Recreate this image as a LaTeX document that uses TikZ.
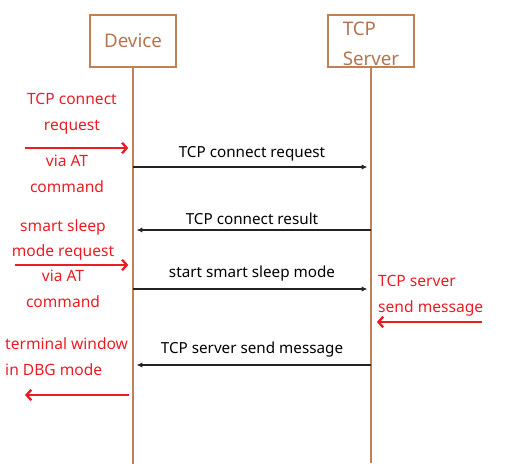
\documentclass[tikz,border=0pt]{standalone}
\usepackage{fontspec}
\setmainfont{Noto Sans}
\usetikzlibrary{arrows.meta}
\definecolor{llbrown}{RGB}{192,128,88}
\definecolor{notered}{RGB}{236,28,36}
\definecolor{msgblack}{RGB}{35,35,35}

\begin{document}
\begin{tikzpicture}[x=0.03cm,y=-0.03cm,
  actor/.style={draw=llbrown,line width=2.3pt,
              minimum width=2.58cm,minimum height=1.56cm,
              inner sep=0pt,text=llbrown!92!black,font=\fontsize{16}{25.5}\selectfont},
  life/.style={llbrown,line width=2.3pt},
  msg/.style={-{Latex[length=5pt,width=4.5pt]},msgblack,line width=1.4pt,shorten >=3pt},
  msgtxt/.style={text=black,font=\fontsize{13}{15}\selectfont,inner sep=1pt},
  note/.style={text=notered,font=\fontsize{13.3}{22}\selectfont,align=center,inner sep=0pt},
  hint/.style={-{Straight Barb[length=4pt,width=9pt]},notered,line width=2pt}
]
  \useasboundingbox (0,0) rectangle (530,476);

  \node[actor] (dev) at (133,41) {Device};
  \node[actor,align=left] (srv) at (371,41) {\rule{0pt}{17pt}TCP\\Server};
  \coordinate (devend) at (133,464);
  \coordinate (srvend) at (371,463);
  \draw[life] (dev.south) -- (devend);
  \draw[life] (srv.south) -- (srvend);

  \coordinate (d1) at (133,167);  \coordinate (s1) at (371,167);
  \coordinate (d2) at (133,230);  \coordinate (s2) at (371,230);
  \coordinate (d3) at (133,289);  \coordinate (s3) at (371,289);
  \coordinate (d4) at (133,365);  \coordinate (s4) at (371,365);
  \draw[msg] (d1) -- node[msgtxt,above=3pt] {TCP connect request} (s1);
  \draw[msg] (s2) -- node[msgtxt,above=3pt] {TCP connect result} (d2);
  \draw[msg] (d3) -- node[msgtxt,above=5pt] {start smart sleep mode} (s3);
  \draw[msg] (s4) -- node[msgtxt,above=5pt] {TCP server send message} (d4);

  \node[note] (req1) at (72,114) {TCP connect\\request};
  \node[note] (via1) at (67,174) {via AT\\command};
  \coordinate (req1a) at (25,148);  \coordinate (req1b) at (133,148);
  \draw[hint,shorten >=4pt] (req1a) -- (req1b);

  \node[note] (req2) at (63,240) {smart sleep\\mode request};
  \node[note] (via2) at (63,289) {via AT\\command};
  \coordinate (req2a) at (15,265);  \coordinate (req2b) at (133,265);
  \draw[hint,shorten >=4pt] (req2a) -- (req2b);

  \node[note,anchor=west,align=left] (dbg) at (5,357) {terminal window\\in DBG mode};
  \coordinate (dbga) at (133,395);  \coordinate (dbgb) at (25,395);
  \draw[hint,shorten <=3pt] (dbga) -- (dbgb);

  \node[note,anchor=west,align=left] (push) at (378,296) {TCP server\\send message};
  \coordinate (pusha) at (482,322);  \coordinate (pushb) at (371,322);
  \draw[hint,shorten >=5pt] (pusha) -- (pushb);
\end{tikzpicture}
\end{document}
